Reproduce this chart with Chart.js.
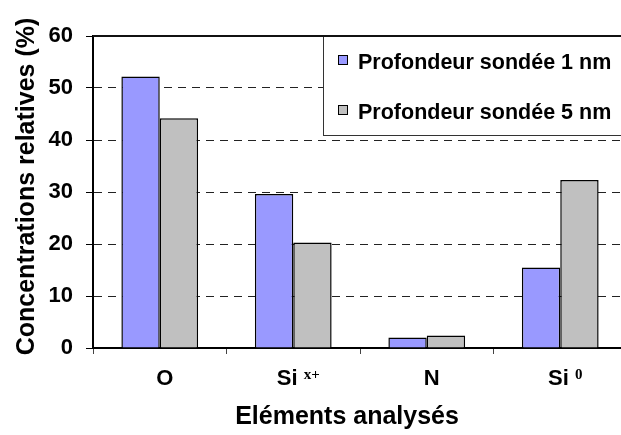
<!DOCTYPE html>
<html>
<head>
<meta charset="utf-8">
<script src="https://cdn.jsdelivr.net/npm/chart.js@4.4.1/dist/chart.umd.min.js"></script>
<style>
  html, body { margin: 0; padding: 0; overflow: hidden; background: #fff; }
  canvas { display: block; }
</style>
</head>
<body>
<canvas id="chart" width="627" height="435"></canvas>
<script>
// Surface composition measured at two probing depths
const categories = ['O', 'Si x+', 'N', 'Si 0'];          // element, then charge state as superscript
const depth1nm = [52.2, 29.6, 2.0, 15.5];
const depth5nm = [44.2, 20.3, 2.4, 32.3];
const seriesLabels = ['Profondeur sondée 1 nm', 'Profondeur sondée 5 nm'];
const seriesColors = ['#9999FF', '#C0C0C0'];
const yTicks = [0, 10, 20, 30, 40, 50, 60];
const yTitle = 'Concentrations relatives (%)';
const xTitle = 'Eléments analysés';

const SANS = '"Liberation Sans", Arial, sans-serif';
const SERIF = '"Liberation Serif", "Times New Roman", serif';

// Category labels with a raised charge state (e.g. Si x+)
const categoryLabels = {
  id: 'categoryLabels',
  afterDraw(chart) {
    const { ctx } = chart;
    const x = chart.scales.x;
    const baseY = x.top + 37;
    ctx.save();
    ctx.fillStyle = '#000';
    ctx.textAlign = 'left';
    ctx.textBaseline = 'alphabetic';
    chart.data.labels.forEach((label, i) => {
      const [main, sup = ''] = label.split(' ');
      ctx.font = 'bold 22px ' + SANS;
      const wMain = ctx.measureText(main).width;
      const wSpace = sup ? ctx.measureText(' ').width : 0;
      ctx.font = 'bold 15px ' + SERIF;
      const wSup = sup ? ctx.measureText(sup).width : 0;
      const cx = x.getPixelForValue(i) + 5;
      const left = cx - (wMain + wSpace + wSup) / 2;
      ctx.font = 'bold 22px ' + SANS;
      ctx.fillText(main, left, baseY);
      if (sup) {
        ctx.font = 'bold 15px ' + SERIF;
        ctx.fillText(sup, left + wMain + wSpace, baseY - 6);
      }
    });
    ctx.restore();
  }
};

// Boxed legend in the upper right corner of the plot
const boxLegend = {
  id: 'boxLegend',
  afterDatasetsDraw(chart) {
    const { ctx, chartArea } = chart;
    const left = 323, top = chartArea.top, bottom = 135, right = chart.width + 2;
    ctx.save();
    ctx.fillStyle = '#fff';
    ctx.fillRect(left, top, right - left, bottom - top);
    ctx.strokeStyle = '#333';
    ctx.lineWidth = 1;
    ctx.strokeRect(left + 0.5, top + 0.5, right - left, bottom - top);
    chart.data.datasets.forEach((ds, i) => {
      const cy = 60 + i * 50;
      ctx.fillStyle = ds.backgroundColor;
      ctx.fillRect(338, cy - 5, 10, 10);
      ctx.strokeStyle = '#000';
      ctx.lineWidth = 1;
      ctx.strokeRect(338.5, cy - 4.5, 9, 9);
      ctx.fillStyle = '#000';
      ctx.font = 'bold 21.5px ' + SANS;
      ctx.textAlign = 'left';
      ctx.textBaseline = 'alphabetic';
      ctx.fillText(ds.label, 358, cy + 8.5);
    });
    ctx.restore();
  }
};

// Top frame line and the two axis titles
const frameAndTitles = {
  id: 'frameAndTitles',
  afterDraw(chart) {
    const { ctx, chartArea } = chart;
    ctx.save();
    ctx.strokeStyle = '#111';
    ctx.lineWidth = 2;
    ctx.beginPath();
    ctx.moveTo(chartArea.left, chartArea.top);
    ctx.lineTo(chartArea.right, chartArea.top);
    ctx.stroke();

    ctx.fillStyle = '#000';
    ctx.font = 'bold 25px ' + SANS;
    ctx.textAlign = 'center';
    ctx.textBaseline = 'alphabetic';
    ctx.fillText(xTitle, (chartArea.left + chartArea.right) / 2 - 13, chartArea.bottom + 76);

    ctx.translate(34, (chartArea.top + chartArea.bottom) / 2 - 5.5);
    ctx.rotate(-Math.PI / 2);
    ctx.fillText(yTitle, 0, 0);
    ctx.restore();
  }
};

new Chart(document.getElementById('chart'), {
  type: 'bar',
  data: {
    labels: categories,
    datasets: [
      { label: seriesLabels[0], data: depth1nm, backgroundColor: seriesColors[0], borderColor: '#000', borderWidth: 1.5 },
      { label: seriesLabels[1], data: depth5nm, backgroundColor: seriesColors[1], borderColor: '#000', borderWidth: 1.5 }
    ]
  },
  options: {
    responsive: false,
    animation: false,
    events: [],
    layout: { padding: { top: 36, left: 0, right: 0, bottom: 0 } },
    datasets: { bar: { categoryPercentage: 0.575, barPercentage: 1 } },
    plugins: { legend: { display: false }, tooltip: { enabled: false } },
    scales: {
      x: {
        grid: { offset: true, drawOnChartArea: false, drawTicks: true, tickLength: 6, tickColor: '#444', tickWidth: 1 },
        border: { display: true, color: '#000', width: 2 },
        ticks: { display: false },
        afterFit(s) { s.height = 87; }
      },
      y: {
        min: 0,
        max: 60,
        afterBuildTicks(s) { s.ticks = yTicks.map(v => ({ value: v })); },
        ticks: { color: '#000', padding: 13, font: { family: SANS, size: 22, weight: 'bold' } },
        grid: {
          color: c => (c.tick && (c.tick.value === 0 || c.tick.value === 60)) ? 'rgba(0,0,0,0)' : '#222',
          lineWidth: 1,
          tickLength: 7,
          tickColor: '#000',
          tickWidth: 1
        },
        border: { color: '#000', width: 2, dash: [8, 6] },
        afterFit(s) { s.width = 93; }
      }
    }
  },
  plugins: [categoryLabels, boxLegend, frameAndTitles]
});
</script>
</body>
</html>
